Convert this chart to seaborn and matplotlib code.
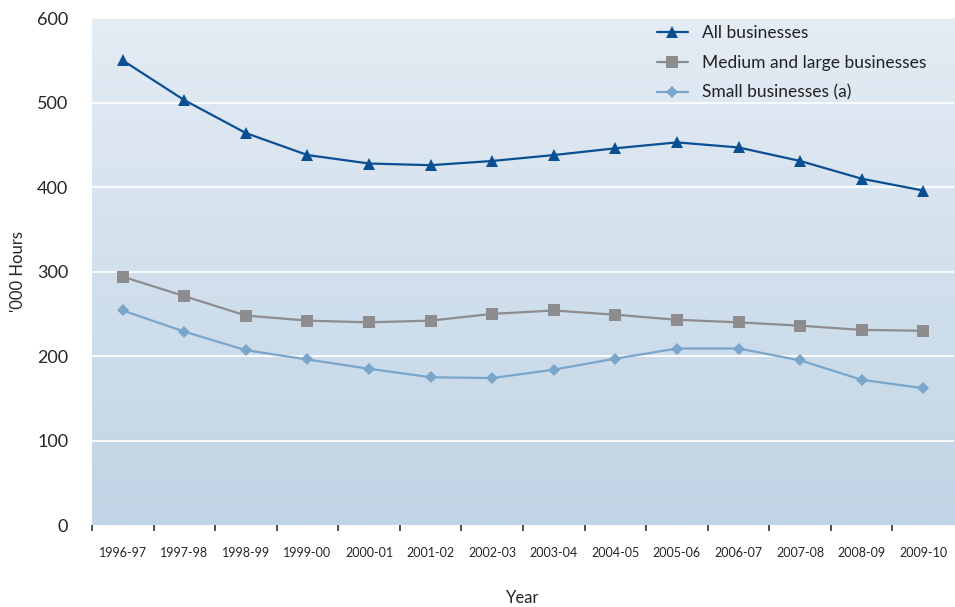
import numpy as np
import pandas as pd
import seaborn as sns
import matplotlib
import matplotlib.pyplot as plt
from matplotlib.colors import LinearSegmentedColormap

years = ['1996-97', '1997-98', '1998-99', '1999-00', '2000-01', '2001-02', '2002-03',
         '2003-04', '2004-05', '2005-06', '2006-07', '2007-08', '2008-09', '2009-10']
all_bus = [550, 503, 464, 438, 428, 426, 431, 438, 446, 453, 447, 431, 410, 396]
med_large = [294, 271, 248, 242, 240, 242, 250, 254, 249, 243, 240, 236, 231, 230]
small = [254, 229, 207, 196, 185, 175, 174, 184, 197, 209, 209, 195, 172, 162]
series = ['All businesses', 'Medium and large businesses', 'Small businesses (a)']
yticks = [0, 100, 200, 300, 400, 500, 600]

pal = {'All businesses': '#0b4f93',
       'Medium and large businesses': '#8d8d8f',
       'Small businesses (a)': '#7aa6cb'}
marks = {'All businesses': '^',
         'Medium and large businesses': 's',
         'Small businesses (a)': 'D'}
msize = {'All businesses': 9, 'Medium and large businesses': 8, 'Small businesses (a)': 6}

df = pd.concat([
    pd.DataFrame({'Year': years, 'hours': vals, 'series': name})
    for name, vals in zip(series, [all_bus, med_large, small])
])

sns.set_style('white')
plt.rcParams['font.family'] = ['Lato', 'DejaVu Sans']
plt.rcParams['text.color'] = '#222222'

fig = plt.figure(figsize=(9.55, 6.07), dpi=100)
ax = fig.add_axes([0.0963, 0.135, 0.9027, 0.835])

# gradient background, light at the top
grad = np.linspace(0, 1, 256).reshape(-1, 1)
cmap = LinearSegmentedColormap.from_list('bg', ['#e4ecf4', '#c0d4e5'])
ax.imshow(grad, aspect='auto', cmap=cmap, extent=[0, 1, 0, 1], origin='upper',
          transform=ax.transAxes, zorder=0)

for yv in yticks[1:]:
    ax.axhline(yv, color='white', lw=1.3, zorder=1)

for name in series:
    sub = df[df['series'] == name]
    sns.lineplot(data=sub, x='Year', y='hours', color=pal[name], marker=marks[name],
                 markersize=msize[name], markeredgewidth=0, lw=1.6, sort=False,
                 label=name, ax=ax, zorder=3)

ax.set_xlim(-0.5, len(years) - 0.5)
ax.set_ylim(0, 600)
ax.set_yticks(yticks)
ax.set_yticklabels([str(v) for v in yticks], fontsize=13)
ax.set_xticks(range(len(years)))
ax.set_xticklabels(years, fontsize=9)
ax.set_xticks(np.arange(-0.5, len(years) - 1, 1), minor=True)
ax.tick_params(axis='x', which='major', bottom=False, length=0, pad=16)
ax.tick_params(axis='x', which='minor', bottom=True, length=4, width=1.1,
               color='#222222', direction='out')
ax.tick_params(axis='y', left=False, length=0, pad=17)
ax.set_xlabel('Year', fontsize=12, labelpad=22)
ax.set_ylabel("'000 Hours", fontsize=12, labelpad=8)
for s in ax.spines.values():
    s.set_visible(False)
ax.grid(False)

ax.legend(loc='upper left', bbox_to_anchor=(0.637, 1.018), frameon=False, fontsize=12.5,
          handlelength=1.8, handletextpad=0.8, labelspacing=0.8)

fig.savefig('out.png', dpi=100)
